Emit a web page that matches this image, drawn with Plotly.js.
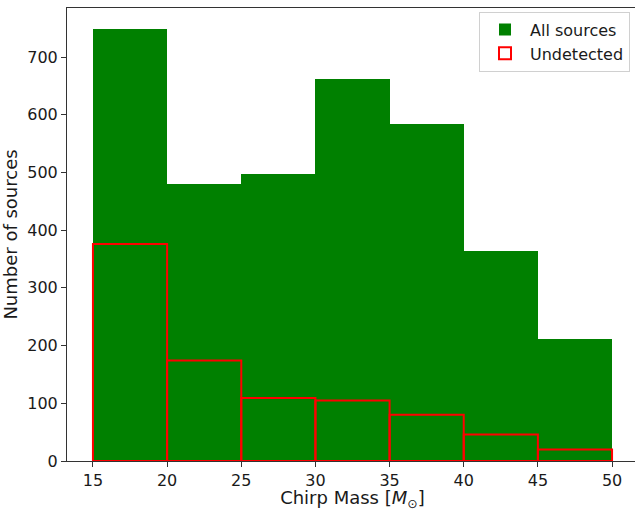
<!DOCTYPE html>
<html>
<head>
<meta charset="utf-8">
<script src="https://cdn.plot.ly/plotly-3.0.1.min.js"></script>
<style>
html,body{margin:0;padding:0;overflow:hidden;background:#fff;}
#chart{width:640px;height:511px;}
</style>
</head>
<body>
<div id="chart"></div>
<script>
// Bin centres of the chirp-mass histogram (bin edges 15..50, width 5)
const binCenters = [17.5, 22.5, 27.5, 32.5, 37.5, 42.5, 47.5];
const allSources = [748, 480, 497, 662, 584, 364, 212];
const undetected = [376, 174, 109, 105, 80, 46, 20];
const xTicks = [15, 20, 25, 30, 35, 40, 45, 50];
const yTicks = [0, 100, 200, 300, 400, 500, 600, 700];

const font = {family: 'DejaVu Sans, sans-serif', size: 16, color: '#1a1a1a'};
const titleFont = {family: 'DejaVu Sans, sans-serif', size: 18, color: '#1a1a1a'};

const traces = [
  {
    type: 'bar', name: 'All sources', x: binCenters, y: allSources,
    width: 5, marker: {color: '#008000', line: {width: 0}},
    hoverinfo: 'skip'
  },
  {
    type: 'bar', name: 'Undetected', x: binCenters, y: undetected,
    width: 5, marker: {color: 'rgba(0,0,0,0)', line: {color: '#ff0000', width: 2}},
    hoverinfo: 'skip'
  }
];

const layout = {
  width: 640, height: 511,
  margin: {l: 67, r: 2, t: 8, b: 50},
  paper_bgcolor: '#fff', plot_bgcolor: '#fff',
  barmode: 'overlay', bargap: 0,
  font: font,
  showlegend: true,
  legend: {
    x: 0.986, y: 0.992, xanchor: 'right', yanchor: 'top',
    bgcolor: 'rgba(255,255,255,0.8)', bordercolor: '#d0d0d0', borderwidth: 1,
    font: {family: 'DejaVu Sans, sans-serif', size: 16, color: '#1a1a1a'},
    tracegroupgap: 0, itemwidth: 40
  },
  xaxis: {
    range: [13.25, 51.75], tickvals: xTicks, ticktext: xTicks.map(String),
    showgrid: false, zeroline: false, showline: true, linecolor: '#333', linewidth: 1,
    mirror: true, ticks: 'outside', ticklen: 5, tickcolor: '#333',
    tickfont: font,
    title: {text: 'Chirp Mass [<i>M</i><sub>⊙</sub>]', font: titleFont, standoff: 7}
  },
  yaxis: {
    range: [0, 785], tickvals: yTicks, ticktext: yTicks.map(String),
    showgrid: false, zeroline: false, showline: true, linecolor: '#333', linewidth: 1,
    mirror: true, ticks: 'outside', ticklen: 5, tickcolor: '#333',
    tickfont: font,
    title: {text: 'Number of sources', font: titleFont, standoff: 10}
  }
};

Plotly.newPlot('chart', traces, layout, {displayModeBar: false, staticPlot: true});
</script>
</body>
</html>
